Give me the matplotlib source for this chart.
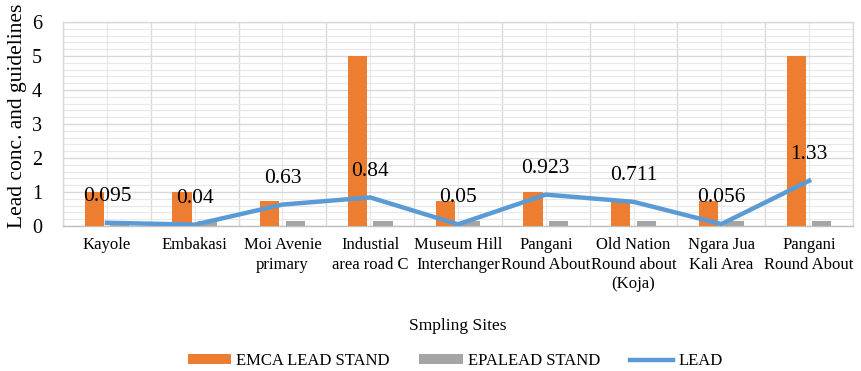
import matplotlib
matplotlib.use("Agg")
import matplotlib.pyplot as plt
import numpy as np
from matplotlib.ticker import MultipleLocator, FixedLocator

plt.rcParams['font.family'] = ['Liberation Serif', 'DejaVu Serif']

sites = ["Kayole", "Embakasi", "Moi Avenie\nprimary", "Industial\narea road C",
         "Museum Hill\nInterchanger", "Pangani\nRound About",
         "Old Nation\nRound about\n(Koja)", "Ngara Jua\nKali Area",
         "Pangani\nRound About"]
emca_std = [1, 1, 0.75, 5, 0.75, 1, 0.7, 0.75, 5]
epa_std = [0.15, 0.15, 0.15, 0.15, 0.15, 0.15, 0.15, 0.15, 0.15]
lead = [0.095, 0.04, 0.63, 0.84, 0.05, 0.923, 0.711, 0.056, 1.33]
lead_labels = ["0.095", "0.04", "0.63", "0.84", "0.05", "0.923", "0.711", "0.056", "1.33"]

ORANGE = "#ED7D31"
GRAY = "#A5A5A5"
BLUE = "#5B9BD5"

fig = plt.figure(figsize=(8.61, 3.71), dpi=100)
ax = fig.add_axes([63 / 861, 145 / 371, 790 / 861, 204 / 371])

x = np.arange(len(sites))
bw = 0.22
off = 0.145
b1 = ax.bar(x - off, emca_std, width=bw, color=ORANGE, zorder=3, label="EMCA LEAD STAND")
b2 = ax.bar(x + off, epa_std, width=bw, color=GRAY, zorder=3, label="EPALEAD STAND")
ln, = ax.plot(x, lead, color=BLUE, lw=3.2, zorder=4, label="LEAD", solid_joinstyle="round")

for xi, yi, t in zip(x, lead, lead_labels):
    ax.annotate(t, (xi, yi), xytext=(0, 19), textcoords="offset points",
                ha="center", va="center", fontsize=15.5, zorder=5)

ax.set_xlim(-0.5, len(sites) - 0.5)
ax.set_ylim(0, 6)

ax.yaxis.set_major_locator(MultipleLocator(1))
ax.yaxis.set_minor_locator(MultipleLocator(0.2))
ax.xaxis.set_major_locator(FixedLocator(x))
ax.xaxis.set_minor_locator(FixedLocator(np.arange(-0.5, len(sites), 1.0)))
ax.set_xticklabels(sites, fontsize=12, linespacing=1.3)
ax.tick_params(axis="x", which="both", length=0, pad=8)
ax.tick_params(axis="y", which="both", length=0, pad=15, labelsize=14.5)

ax.grid(which="major", axis="y", color="#D9D9D9", lw=1.0, zorder=0)
ax.grid(which="minor", axis="y", color="#E8E8E8", lw=0.9, zorder=0)
ax.grid(which="minor", axis="x", color="#D9D9D9", lw=1.0, zorder=0)
ax.grid(which="major", axis="x", color="#E8E8E8", lw=0.9, zorder=0)
ax.set_axisbelow(True)

for s in ax.spines.values():
    s.set_color("#D9D9D9")
    s.set_linewidth(1.0)
ax.spines["bottom"].set_color("#BFBFBF")

fig.text(458 / 861, 1 - 326 / 371, "Smpling Sites", ha="center", va="center", fontsize=12.5)
fig.text(18 / 861, 1 - 116 / 371, "Lead conc. and guidelines", rotation=90,
         ha="center", va="center", fontsize=15.5)

fig.legend(handles=[b1, b2, ln], loc="center", bbox_to_anchor=(455 / 861, 1 - 361 / 371),
           ncol=3, frameon=False, fontsize=12, handlelength=2.6, handleheight=0.5,
           columnspacing=1.8, handletextpad=0.3)

fig.savefig("out.png", dpi=100)
